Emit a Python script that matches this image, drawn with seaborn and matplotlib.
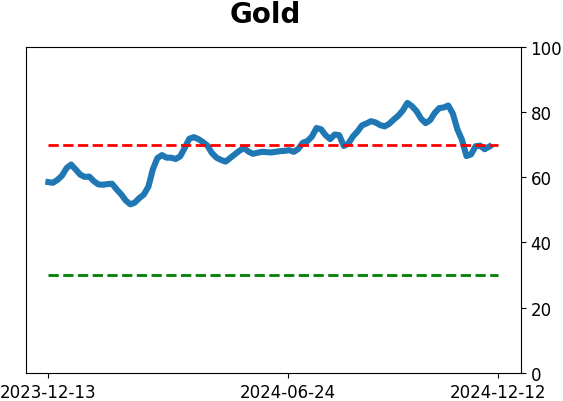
import numpy as np
import pandas as pd
import matplotlib
matplotlib.use("Agg")
import matplotlib.pyplot as plt
import seaborn as sns

start_date = "2023-12-13"
end_date = "2024-12-12"
n_points = 100
tick_dates = ["2023-12-13", "2024-06-24", "2024-12-12"]
upper_level = 70
lower_level = 30
title = "Gold"

values = [
    58.5, 58.3, 59.2, 60.5, 62.8, 63.9, 62.4, 60.8, 60.1, 60.2,
    58.8, 57.8, 57.7, 57.9, 58.0, 56.3, 54.8, 52.9, 51.7, 52.2,
    53.6, 54.7, 57.1, 62.5, 65.9, 66.8, 66.0, 66.0, 65.6, 66.4,
    69.0, 71.8, 72.3, 71.7, 70.8, 69.7, 67.4, 66.0, 65.3, 64.8,
    65.9, 67.0, 68.1, 69.0, 67.9, 67.2, 67.5, 67.8, 67.7, 67.6,
    67.8, 68.0, 68.1, 68.3, 67.8, 68.7, 70.6, 71.1, 72.5, 75.1,
    74.7, 72.9, 71.7, 73.1, 72.9, 69.6, 70.3, 72.5, 74.0, 75.9,
    76.5, 77.2, 76.8, 76.0, 75.6, 76.4, 77.7, 78.9, 80.5, 82.8,
    81.8, 80.3, 78.0, 76.6, 77.5, 79.7, 81.2, 81.4, 82.0, 79.5,
    74.7, 71.5, 66.5, 67.0, 69.5, 69.7, 68.6, 69.4, np.nan, np.nan,
]

dates = pd.date_range(start_date, end_date, periods=n_points)
df = pd.DataFrame({"date": dates, "value": values})

fig = plt.figure(figsize=(5.63, 4.02), dpi=100)
ax = fig.add_axes([0.046, 0.070, 0.879, 0.811])

sns.lineplot(data=df, x="date", y="value", ax=ax, color="#1f77b4", linewidth=4.4)
ax.hlines(upper_level, dates[0], dates[-1], colors="red", linestyles="--", linewidth=2)
ax.hlines(lower_level, dates[0], dates[-1], colors="green", linestyles="--", linewidth=2)

ax.set_ylim(0, 100)
ax.set_yticks([0, 20, 40, 60, 80, 100])
ax.yaxis.tick_right()
ax.set_xticks(pd.to_datetime(tick_dates))
ax.set_xticklabels(tick_dates)
ax.tick_params(labelsize=12)
ax.set_xlabel("")
ax.set_ylabel("")
ax.set_title(title, fontsize=20, fontweight="bold", pad=18, x=0.484)

fig.savefig("out.png", dpi=100)
